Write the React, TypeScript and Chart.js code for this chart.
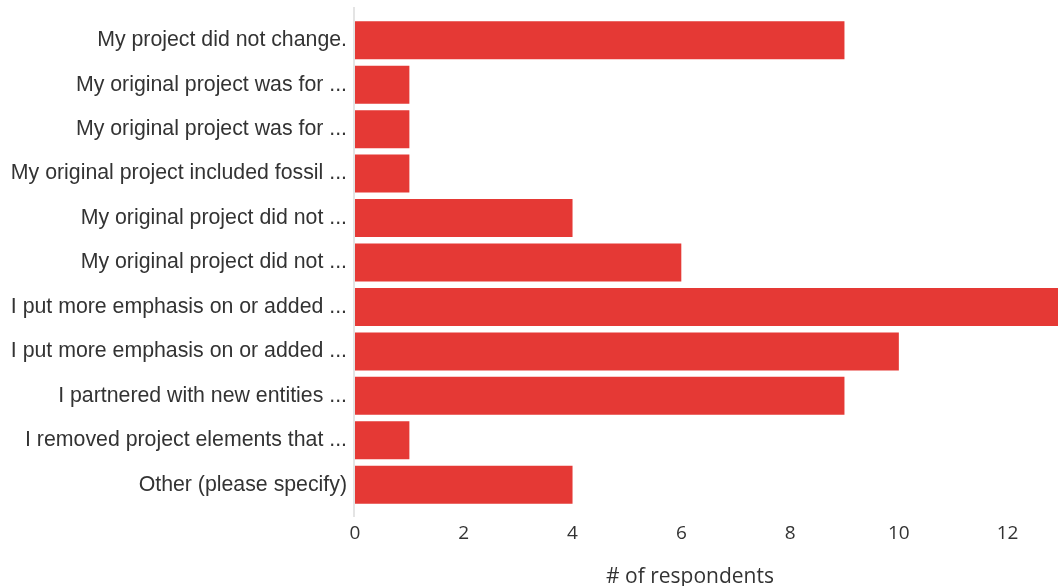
import React, { useEffect, useRef } from "react";
import { Chart, registerables } from "chart.js";

Chart.register(...registerables);

const categories = [
  "My project did not change.",
  "My original project was for ...",
  "My original project was for ...",
  "My original project included fossil ...",
  "My original project did not ...",
  "My original project did not ...",
  "I put more emphasis on or added ...",
  "I put more emphasis on or added ...",
  "I partnered with new entities ...",
  "I removed project elements that ...",
  "Other (please specify)",
];
const respondents = [9, 1, 1, 1, 4, 6, 13, 10, 9, 1, 4];
const xTickValues = [0, 2, 4, 6, 8, 10, 12];
const xTitle = "# of respondents";
const xMax = 13;

const axisLinePlugin = {
  id: "axisLine",
  afterDatasetsDraw(chart: any) {
    const { ctx, chartArea, scales } = chart;
    const x = Math.round(scales.x.getPixelForValue(0)) - 1;
    ctx.save();
    ctx.fillStyle = "#e4e4e4";
    ctx.fillRect(x - 1, chartArea.top - 11, 2, chartArea.bottom - chartArea.top + 21);
    ctx.restore();
  },
  afterDraw(chart: any) {
    const { ctx, chartArea } = chart;
    ctx.save();
    ctx.font = "21px 'Open Sans'";
    ctx.fillStyle = "#333333";
    ctx.textAlign = "center";
    ctx.textBaseline = "middle";
    ctx.fillText(xTitle, chartArea.left + 335, 577);
    ctx.restore();
  },
};

export default function App() {
  const ref = useRef<HTMLCanvasElement | null>(null);
  useEffect(() => {
    if (!ref.current) return;
    const chart = new Chart(ref.current, {
      type: "bar",
      data: {
        labels: categories,
        datasets: [
          {
            data: respondents,
            backgroundColor: "#e53935",
            borderWidth: 0,
            categoryPercentage: 1,
            barPercentage: 0.855,
          },
        ],
      },
      options: {
        indexAxis: "y",
        responsive: false,
        animation: false,
        layout: { padding: { top: 18, right: 0, left: 0, bottom: 0 } },
        plugins: { legend: { display: false }, tooltip: { enabled: false } },
        scales: {
          x: {
            min: 0,
            max: xMax,
            afterBuildTicks(scale: any) {
              scale.ticks = xTickValues.map((v) => ({ value: v }));
            },
            ticks: {
              color: "#333333",
              font: { family: "'Open Sans'", size: 19 },
              padding: 15,
            },
            grid: { display: false, drawTicks: false },
            border: { display: false },
            afterFit(scale: any) {
              scale.height = 79;
              scale.paddingRight = 0;
              scale.paddingLeft = 0;
            },
          },
          y: {
            ticks: {
              color: "#333333",
              font: { family: "'Liberation Sans'", size: 21.3 },
              padding: 8,
              autoSkip: false,
            },
            grid: { display: false, drawTicks: false },
            border: { display: false },
            afterFit(scale: any) {
              scale.width = 355;
              scale.paddingTop = 0;
              scale.paddingBottom = 0;
            },
          },
        },
      },
      plugins: [axisLinePlugin],
    });
    return () => chart.destroy();
  }, []);
  return (
    <div
      style={{
        position: "fixed",
        left: 0,
        top: 0,
        width: 1058,
        height: 586,
        overflow: "hidden",
        background: "#ffffff",
      }}
    >
      <canvas ref={ref} width={1062} height={586} style={{ width: 1062, height: 586 }} />
    </div>
  );
}
